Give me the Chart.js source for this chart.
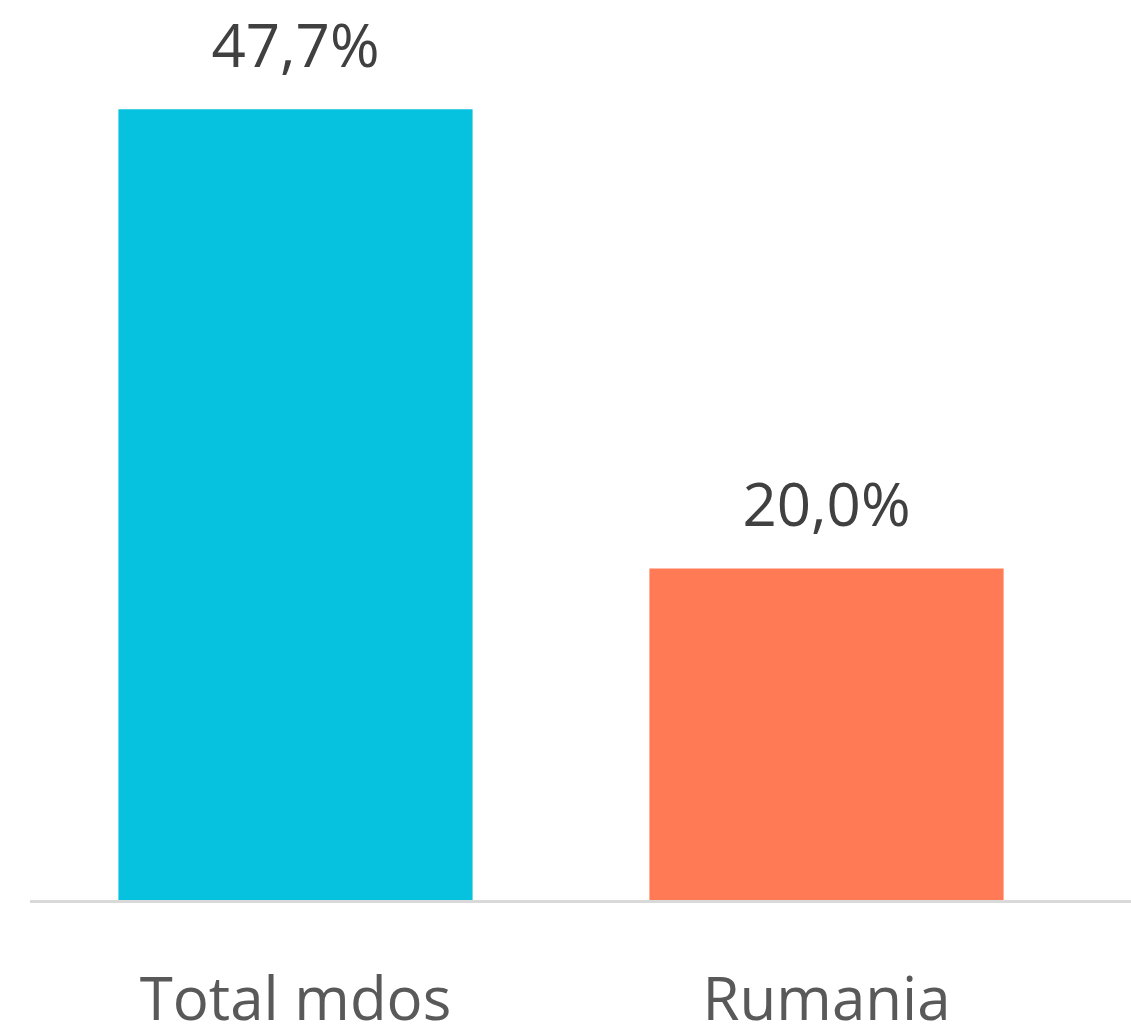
<!DOCTYPE html>
<html>
<head>
<meta charset="utf-8">
<script src="https://cdn.jsdelivr.net/npm/chart.js@4.4.0/dist/chart.umd.min.js"></script>
<style>
  html, body { margin: 0; padding: 0; background: #fff; overflow: hidden; }
  #wrap { position: relative; width: 1131px; height: 1026px; }
</style>
</head>
<body>
<div id="wrap"><canvas id="chart"></canvas></div>
<script>
const categories = ['Total mdos', 'Rumania'];
const values = [47.7, 20.0];
const barColors = ['#06C2DE', '#FF7A55'];

// etiquetas de valor encima de cada barra
const valueLabels = {
    id: 'valueLabels',
    afterDatasetsDraw(chart) {
        const ctx = chart.ctx;
        const meta = chart.getDatasetMeta(0);
        ctx.save();
        ctx.font = '60px "Open Sans"';
        ctx.fillStyle = '#404040';
        ctx.textAlign = 'center';
        ctx.textBaseline = 'alphabetic';
        meta.data.forEach((bar, i) => {
            ctx.fillText(values[i].toFixed(1).replace('.', ',') + '%', bar.x, bar.y - 42);
        });
        ctx.restore();
    }
};

// linea base que llega hasta el borde derecho
const baseLine = {
    id: 'baseLine',
    afterDatasetsDraw(chart) {
        const ctx = chart.ctx;
        const y = chart.scales.y.getPixelForValue(0);
        ctx.save();
        ctx.strokeStyle = '#D9D9D9';
        ctx.lineWidth = 3;
        ctx.beginPath();
        ctx.moveTo(30, y + 1.5);
        ctx.lineTo(chart.width, y + 1.5);
        ctx.stroke();
        ctx.restore();
    }
};

new Chart(document.getElementById('chart'), {
    type: 'bar',
    data: {
        labels: categories,
        datasets: [{
            data: values,
            backgroundColor: barColors,
            borderWidth: 0,
            barPercentage: 0.667,
            categoryPercentage: 1
        }]
    },
    options: {
        responsive: true,
        maintainAspectRatio: false,
        animation: false,
        layout: { padding: { top: 71, left: 30, right: 39, bottom: 0 } },
        plugins: {
            legend: { display: false },
            tooltip: { enabled: false }
        },
        scales: {
            y: {
                display: false,
                min: 0,
                max: 50
            },
            x: {
                grid: { display: false, drawTicks: false },
                border: { display: false },
                ticks: {
                    color: '#595959',
                    font: { family: '"Open Sans"', size: 60 },
                    padding: 67
                },
                // el eje ocupa solo lo que queda bajo la linea base; las etiquetas se cortan abajo
                afterFit(scale) { scale.height = 126; }
            }
        }
    },
    plugins: [valueLabels, baseLine]
});
</script>
</body>
</html>
